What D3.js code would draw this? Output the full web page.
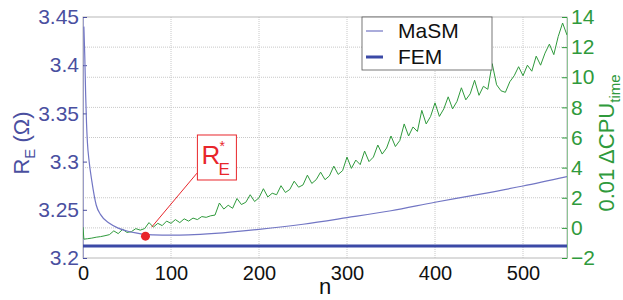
<!DOCTYPE html>
<html>
<head>
<meta charset="utf-8">
<script src="https://cdn.jsdelivr.net/npm/d3@7"></script>
<style>
    body { margin: 0; background: #fff; }
    svg { font-family: 'Liberation Sans', Arial, sans-serif; }
</style>
</head>
<body>
<svg id="chart" width="623" height="300"></svg>
<script>
'use strict';

// MaSM estimate of R_E against n
var masmN = [1, 2, 3, 4, 5, 7, 10, 15, 20, 30, 40, 50, 60, 70, 80, 100, 120, 150, 200, 250, 300, 350, 400, 450, 500, 550];
var masmR = [3.44, 3.41, 3.37, 3.34, 3.32, 3.30, 3.28, 3.255, 3.245, 3.236, 3.231, 3.228, 3.226, 3.2245, 3.224, 3.2237, 3.224, 3.2255,
    3.2297, 3.235, 3.2418, 3.249, 3.2578, 3.266, 3.2747, 3.2844];

// reference FEM value
var femR = 3.2125;

// 0.01 dCPU time, read every 5 steps of n
var cpuN = [0, 1, 5, 10, 15, 20, 25, 30, 35, 40, 45, 50, 55, 60, 65, 70, 75, 80, 85, 90, 95, 100, 105, 110, 115, 120, 125, 130, 135,
    140, 145, 150, 155, 160, 165, 170, 175, 180, 185, 190, 195, 200, 205, 210, 215, 220, 225, 230, 235, 240, 245, 250, 255, 260,
    265, 270, 275, 280, 285, 290, 295, 300, 305, 310, 315, 320, 325, 330, 335, 340, 345, 350, 355, 360, 365, 370, 375, 380, 385,
    390, 395, 400, 405, 410, 415, 420, 425, 430, 435, 440, 445, 450, 455, 460, 465, 470, 475, 480, 485, 490, 495, 500, 505, 510,
    515, 520, 525, 530, 535, 540, 545, 550];
var cpuT = [0.05, -0.75, -0.72, -0.68, -0.62, -0.58, -0.52, -0.45, -0.2, -0.38, -0.1, -0.3, -0.25, -0.05, -0.15, -0.05, 0.35, 0.05,
    0.3, 0.15, 0.45, 0.3, 0.55, 0.35, 0.6, 0.45, 0.65, 0.55, 0.75, 0.7, 0.8, 0.85,
    1.65, 1.25, 1.5, 1.3, 1.95, 1.55, 1.7, 2.2, 1.75, 2.0,
    2.6, 2.05, 2.3, 2.2, 2.8, 2.35, 2.55, 3.1, 2.7, 2.85,
    3.5, 2.95, 3.2, 3.7, 3.2, 3.45, 4.1, 3.55, 3.8, 4.7,
    3.95, 4.5, 4.2, 5.1, 4.4, 4.7, 5.5, 4.9, 5.3, 6.1,
    5.4, 5.8, 6.9, 6.1, 6.7, 6.4, 7.8, 6.9, 7.4, 8.3,
    7.4, 7.9, 8.7, 7.9, 8.4, 9.3, 8.5, 8.9, 9.8, 8.8,
    9.4, 9.2, 10.9, 9.5, 9.1, 9.0, 9.7, 10.1, 10.7, 10.1,
    10.8, 10.4, 11.4, 10.8, 11.6, 12.2, 11.5, 12.7, 13.6, 12.8];

var xTicks = [0, 100, 200, 300, 400, 500];
var leftTicks = [3.2, 3.25, 3.3, 3.35, 3.4, 3.45];
var rightTicks = [-2, 0, 2, 4, 6, 8, 10, 12, 14];

// optimum marked on the curve
var rStar = { n: 71, r: 3.2237 };

var blue = '#4a4f9f',
    masmColor = '#7276c4',
    femColor = '#3b49a6',
    green = '#2f9a3c',
    red = '#e8262b';

var svg = d3.select('#chart'),
    margin = { left: 83, right: 56, top: 17, bottom: 42 },
    W = 623, H = 300;

var x = d3.scaleLinear().domain([0, 550]).range([margin.left, W - margin.right]),
    yL = d3.scaleLinear().domain([3.2, 3.45]).range([H - margin.bottom, margin.top]),
    yR = d3.scaleLinear().domain([-2, 14]).range([H - margin.bottom, margin.top]);

// grid
var grid = svg.append('g').attr('stroke', '#c8c8c8').attr('stroke-width', 1).attr('stroke-dasharray', '1,1');
grid.selectAll('line.v').data(xTicks.slice(1)).enter().append('line')
    .attr('x1', function(d){ return x(d); }).attr('x2', function(d){ return x(d); })
    .attr('y1', yR(14)).attr('y2', yR(-2));
grid.selectAll('line.h').data(rightTicks.slice(1, -1)).enter().append('line')
    .attr('y1', function(d){ return yR(d); }).attr('y2', function(d){ return yR(d); })
    .attr('x1', x(0)).attr('x2', x(550));

// frame
svg.append('rect')
    .attr('x', x(0)).attr('y', yR(14))
    .attr('width', x(550) - x(0)).attr('height', yR(-2) - yR(14))
    .attr('fill', 'none').attr('stroke', '#b8b8b8');

// axes
var xAxis = svg.append('g').attr('transform', 'translate(0,' + yL(3.2) + ')')
    .call(d3.axisBottom(x).tickValues(xTicks).tickSize(0).tickPadding(8).tickFormat(d3.format('d')));
xAxis.select('.domain').remove();
xAxis.selectAll('text').attr('font-size', 20).attr('fill', '#111');

var lAxis = svg.append('g').attr('transform', 'translate(' + x(0) + ',0)')
    .call(d3.axisLeft(yL).tickValues(leftTicks).tickSizeInner(-4).tickSizeOuter(0).tickPadding(4)
        .tickFormat(function(d){ return d3.format('')(+d.toFixed(2)); }));
lAxis.select('.domain').attr('stroke', '#9a9cc8');
lAxis.selectAll('line').attr('stroke', blue);
lAxis.selectAll('text').attr('font-size', 21).attr('fill', blue);

var rAxis = svg.append('g').attr('transform', 'translate(' + x(550) + ',0)')
    .call(d3.axisRight(yR).tickValues(rightTicks).tickSizeInner(-5).tickSizeOuter(0).tickPadding(4));
rAxis.select('.domain').attr('stroke', '#8cc494');
rAxis.selectAll('line').attr('stroke', green);
rAxis.selectAll('text').attr('font-size', 21).attr('fill', green);

// axis titles
var lt = svg.append('text').attr('transform', 'translate(29,143) rotate(-90)')
    .attr('text-anchor', 'middle').attr('font-size', 22).attr('fill', blue);
lt.append('tspan').text('R');
lt.append('tspan').attr('font-size', 15).attr('dy', 6).text('E');
lt.append('tspan').attr('dy', -6).text(' (\u03a9)');

var rt = svg.append('text').attr('transform', 'translate(614,143) rotate(-90)')
    .attr('text-anchor', 'middle').attr('font-size', 22).attr('fill', green);
rt.append('tspan').text('0.01 \u0394CPU');
rt.append('tspan').attr('font-size', 15).attr('dy', 6).text('time');

svg.append('text').attr('x', x(275)).attr('y', 294).attr('text-anchor', 'middle')
    .attr('font-size', 22).attr('fill', '#111').text('n');

// data lines
svg.append('defs').append('clipPath').attr('id', 'plot').append('rect')
    .attr('x', x(0)).attr('y', yR(14)).attr('width', x(550) - x(0)).attr('height', yR(-2) - yR(14));

var plot = svg.append('g').attr('clip-path', 'url(#plot)');

plot.append('path')
    .attr('d', d3.line().x(function(d){ return x(d); }).y(function(d, i){ return yR(cpuT[i]); })(cpuN))
    .attr('fill', 'none').attr('stroke', green).attr('stroke-width', 1);

plot.append('line')
    .attr('x1', x(0)).attr('x2', x(550)).attr('y1', yL(femR)).attr('y2', yL(femR))
    .attr('stroke', femColor).attr('stroke-width', 3);

plot.append('path')
    .attr('d', d3.line().curve(d3.curveMonotoneX)
        .x(function(d){ return x(d); }).y(function(d, i){ return yL(masmR[i]); })(masmN))
    .attr('fill', 'none').attr('stroke', masmColor).attr('stroke-width', 1.2);

// R_E* annotation
svg.append('line')
    .attr('x1', x(129.5)).attr('y1', yL(3.288))
    .attr('x2', x(78)).attr('y2', yL(3.232))
    .attr('stroke', red).attr('stroke-width', 1);

svg.append('circle').attr('cx', x(rStar.n)).attr('cy', yL(rStar.r) + 1).attr('r', 4.5).attr('fill', red);

var bx = x(130), by = yL(3.3276);
svg.append('rect').attr('x', bx).attr('y', by).attr('width', 39).attr('height', 45)
    .attr('fill', '#fff').attr('stroke', red).attr('stroke-width', 1);
svg.append('text').attr('x', bx + 4).attr('y', by + 29).attr('font-size', 26).attr('fill', red).text('R');
svg.append('text').attr('x', bx + 21).attr('y', by + 40).attr('font-size', 17).attr('fill', red).text('E');
svg.append('text').attr('x', bx + 22).attr('y', by + 16).attr('font-size', 14).attr('fill', red).text('*');

// legend
var lg = svg.append('g');
lg.append('rect').attr('x', 362).attr('y', 17).attr('width', 130).attr('height', 53)
    .attr('fill', '#fff').attr('stroke', '#555').attr('stroke-width', 0.8);
lg.append('line').attr('x1', 366).attr('x2', 383).attr('y1', 31).attr('y2', 31)
    .attr('stroke', masmColor).attr('stroke-width', 1.2);
lg.append('line').attr('x1', 366).attr('x2', 383).attr('y1', 57).attr('y2', 57)
    .attr('stroke', femColor).attr('stroke-width', 3);
lg.append('text').attr('x', 398).attr('y', 38).attr('font-size', 21).attr('fill', '#111').text('MaSM');
lg.append('text').attr('x', 398).attr('y', 64).attr('font-size', 21).attr('fill', '#111').text('FEM');
</script>
</body>
</html>
